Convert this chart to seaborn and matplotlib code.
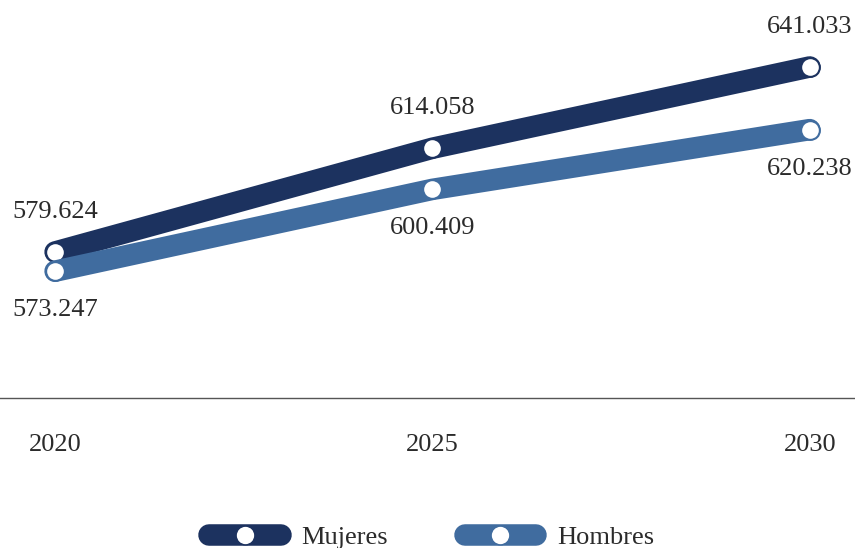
import matplotlib
matplotlib.use("Agg")
import matplotlib.pyplot as plt
import seaborn as sns
import pandas as pd
from matplotlib.lines import Line2D

years = [2020, 2025, 2030]
mujeres = [579.624, 614.058, 641.033]
hombres = [573.247, 600.409, 620.238]
series_names = ["Mujeres", "Hombres"]
colors = {"Mujeres": "#1c325f", "Hombres": "#406c9f"}

df = pd.DataFrame({
    "year": years * 2,
    "value": mujeres + hombres,
    "serie": ["Mujeres"] * 3 + ["Hombres"] * 3,
})

sns.set_theme(style="white")
plt.rcParams["font.family"] = ["Liberation Serif", "DejaVu Serif"]

FS = 19
TXT = "#2b2b2b"

fig = plt.figure(figsize=(8.55, 5.48), dpi=100)
ax = fig.add_axes([0, 1 - 398 / 548, 1, 398 / 548])

sns.lineplot(data=df, x="year", y="value", hue="serie", palette=colors,
             hue_order=series_names, linewidth=15.5, legend=False, ax=ax,
             marker="o", markersize=13.5, markerfacecolor="white",
             markeredgewidth=1.5)
for ln, name in zip(ax.lines, series_names):
    ln.set_solid_capstyle("round")
    ln.set_markeredgecolor(colors[name])

fmt = lambda v: f"{v:.3f}"
for x, v in zip(years, mujeres):
    ax.annotate(fmt(v), (x, v), xytext=(0, 29), textcoords="offset points",
                ha="center", va="center", fontsize=FS, color=TXT)
for x, v in zip(years, hombres):
    ax.annotate(fmt(v), (x, v), xytext=(0, -28), textcoords="offset points",
                ha="center", va="center", fontsize=FS, color=TXT)

ax.set_xlim(2019.27, 2030.6)
ax.set_ylim(531.16, 663.26)
ax.set_xticks(years)
ax.set_xticklabels([str(y) for y in years], fontsize=FS, color=TXT)
ax.set_yticks([])
ax.set_xlabel("")
ax.set_ylabel("")
for s in ["top", "left", "right"]:
    ax.spines[s].set_visible(False)
ax.spines["bottom"].set_color("#555555")
ax.spines["bottom"].set_linewidth(1.0)
ax.tick_params(axis="x", length=0, pad=26)

handles = [Line2D([0], [0], color=colors[n], linewidth=15.5, solid_capstyle="round",
                  marker="o", markersize=13.5, markerfacecolor="white",
                  markeredgecolor=colors[n])
           for n in series_names]
leg = fig.legend(handles, series_names, loc="center", bbox_to_anchor=(0.505, 0.02),
                 ncol=2, frameon=False, fontsize=FS, handlelength=2.7,
                 columnspacing=2.9, handletextpad=0.8, borderpad=0)
for t in leg.get_texts():
    t.set_color(TXT)

fig.savefig("out.png", dpi=100)
